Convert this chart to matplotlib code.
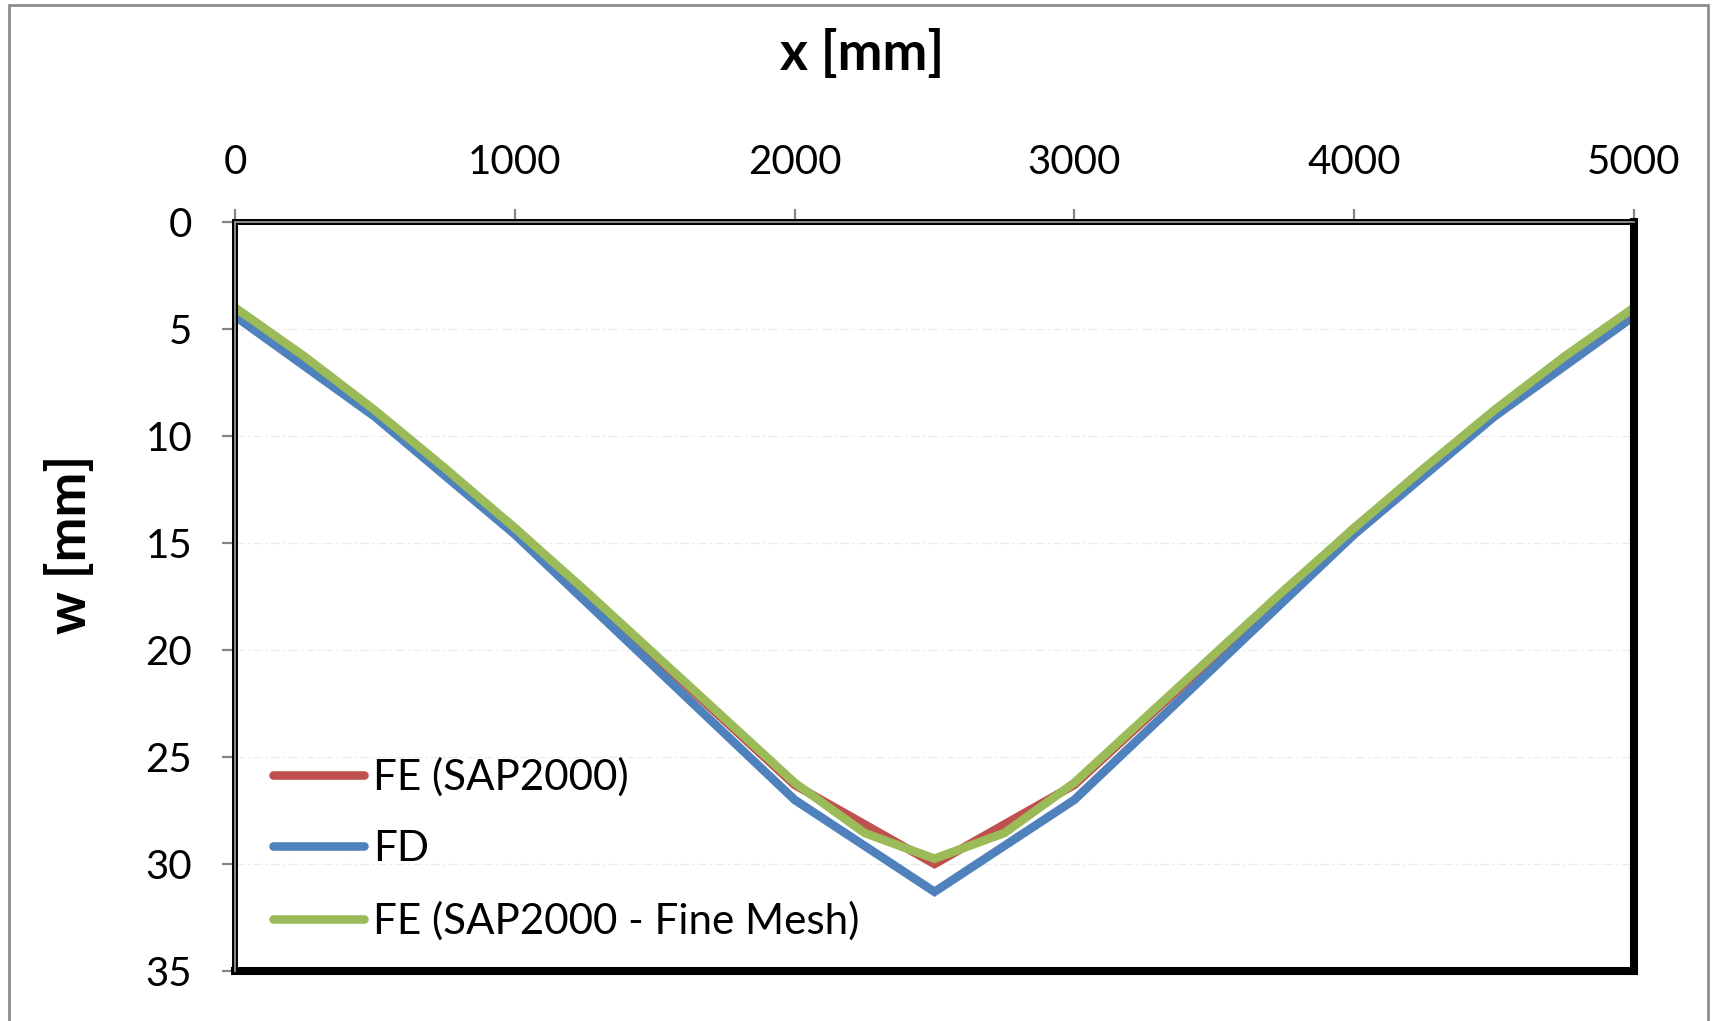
import matplotlib
matplotlib.use("Agg")
import matplotlib.pyplot as plt
from matplotlib.patches import Rectangle
from matplotlib.lines import Line2D

plt.rcParams['font.family'] = ['Lato', 'DejaVu Sans']

# ---- data ----
x_coarse = [0, 500, 1000, 1500, 2000, 2500, 3000, 3500, 4000, 4500, 5000]
fe_sap = [4.1, 8.9, 14.3, 20.3, 26.3, 30.0, 26.3, 20.3, 14.3, 8.9, 4.1]
fd = [4.4, 9.1, 14.6, 20.8, 27.0, 31.3, 27.0, 20.8, 14.6, 9.1, 4.4]
x_fine = [0, 250, 500, 750, 1000, 1250, 1500, 1750, 2000, 2250, 2500,
          2750, 3000, 3250, 3500, 3750, 4000, 4250, 4500, 4750, 5000]
fe_fine = [4.0, 6.3, 8.8, 11.5, 14.3, 17.2, 20.2, 23.2, 26.2, 28.55, 29.75,
           28.55, 26.2, 23.2, 20.2, 17.2, 14.3, 11.5, 8.8, 6.3, 4.0]
labels = ["FE (SAP2000)", "FD", "FE (SAP2000 - Fine Mesh)"]
x_ticks = [0, 1000, 2000, 3000, 4000, 5000]
y_ticks = [0, 5, 10, 15, 20, 25, 30, 35]

W, H = 1717, 1021
fig = plt.figure(figsize=(W / 100, H / 100), dpi=100)
L, R, T, B = 235, 1634, 222, 971
ax = fig.add_axes([L / W, 1 - B / H, (R - L) / W, (B - T) / H])

lw = 6.2
ax.plot(x_coarse, fe_sap, color="#C0504D", lw=lw, label=labels[0], solid_joinstyle="miter", solid_capstyle="round")
ax.plot(x_coarse, fd, color="#4F81BD", lw=lw, label=labels[1], solid_joinstyle="miter", solid_capstyle="round")
ax.plot(x_fine, fe_fine, color="#9BBB59", lw=lw, label=labels[2], solid_joinstyle="miter", solid_capstyle="round")

ax.set_xlim(0, 5000)
ax.set_ylim(35, 0)
ax.set_xticks(x_ticks)
ax.set_yticks(y_ticks)
ax.xaxis.tick_top()
ax.tick_params(axis="both", colors="#868686", labelcolor="black", labelsize=29,
               length=9.7, width=1.6, direction="out")
ax.tick_params(axis="x", pad=20)
ax.tick_params(axis="y", pad=21)
ax.grid(axis="y", color="#ebebeb", lw=0.8, ls=(0, (8, 3, 2, 3)))
ax.set_axisbelow(True)

for s in ["left", "top"]:
    ax.spines[s].set_color("black")
    ax.spines[s].set_linewidth(4.3)
for s in ["right", "bottom"]:
    ax.spines[s].set_color("black")
    ax.spines[s].set_linewidth(5.8)
# gray overlay stripes on left/top frame
ax.add_line(Line2D([0, 0], [0, 1], transform=ax.transAxes, color="#8a8a8a", lw=1.4, clip_on=False, zorder=5))
ax.add_line(Line2D([0, 1], [1, 1], transform=ax.transAxes, color="#8a8a8a", lw=1.4, clip_on=False, zorder=5))

fig.text(862 / W, 1 - 54 / H, "x [mm]", fontsize=38.5, fontweight="bold", ha="center", va="center")
fig.text(70 / W, 1 - 544 / H, "w [mm]", fontsize=38.5, fontweight="bold", ha="center", va="center", rotation=90)

leg = ax.legend(loc="upper left", bbox_to_anchor=(273 / W, 1 - 757 / H), bbox_transform=fig.transFigure,
                frameon=False, fontsize=30.3, handlelength=2.17, handletextpad=0.2,
                labelspacing=0.8, borderpad=0, borderaxespad=0)

fig.patches.append(Rectangle((9 / W, -0.05), (1708 - 9) / W, 1.05 - 5 / H, transform=fig.transFigure,
                             fill=False, edgecolor="#8c8c8c", lw=2))

fig.savefig("out.png", dpi=100)
